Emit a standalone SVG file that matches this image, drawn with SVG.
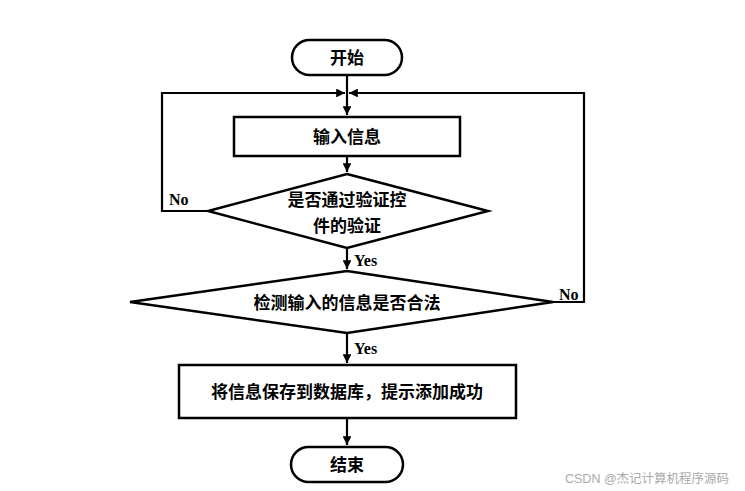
<svg xmlns="http://www.w3.org/2000/svg" width="745" height="491" viewBox="0 0 745 491">
<defs>
<marker id="ah" viewBox="0 0 10 10" refX="10" refY="5" markerWidth="4" markerHeight="4" orient="auto" markerUnits="strokeWidth">
<path d="M0,0 L10,5 L0,10 z" fill="#000"/>
</marker>
<style>
.s{fill:#fff;stroke:#000;stroke-width:2.5}
.c{fill:none;stroke:#000;stroke-width:2.2}
.t{font-family:"Noto Sans CJK SC","Liberation Sans",sans-serif;font-weight:bold;font-size:17px;text-anchor:middle;fill:#000}
.l{font-family:"Liberation Serif",serif;font-weight:bold;font-size:16px;fill:#000}
</style>
</defs>
<rect width="745" height="491" fill="#fff"/>
<g id="connectors">
<path class="c" d="M347,75 V115" marker-end="url(#ah)"/>
<path class="c" d="M347,156 V172" marker-end="url(#ah)"/>
<path class="c" d="M208,211 H162 V93 H345" marker-end="url(#ah)"/>
<path class="c" d="M553,302 H584 V93 H349" marker-end="url(#ah)"/>
<path class="c" d="M347,248 V269" marker-end="url(#ah)"/>
<path class="c" d="M347,333 V363" marker-end="url(#ah)"/>
<path class="c" d="M347,418 V445" marker-end="url(#ah)"/>
<text class="l" x="169" y="205">No</text>
<text class="l" x="354" y="266">Yes</text>
<text class="l" x="559" y="300">No</text>
<text class="l" x="354" y="354">Yes</text>
</g>
<g id="start">
<rect class="s" x="292" y="40" width="110" height="35" rx="17.5"/>
<text class="t" x="347" y="64">开始</text>
</g>
<g id="input">
<rect class="s" x="234" y="117" width="226" height="39"/>
<text class="t" x="347" y="143">输入信息</text>
</g>
<g id="check1">
<polygon class="s" points="347,174 488,211 347,248 208,211"/>
<text class="t" x="347" y="206">是否通过验证控</text>
<text class="t" x="347" y="232">件的验证</text>
</g>
<g id="check2">
<polygon class="s" points="347,271 553,302 347,333 130,302"/>
<text class="t" x="347" y="309">检测输入的信息是否合法</text>
</g>
<g id="save">
<rect class="s" x="179" y="365" width="337" height="53"/>
<text class="t" x="347" y="398">将信息保存到数据库，提示添加成功</text>
</g>
<g id="end">
<rect class="s" x="291" y="447" width="112" height="35" rx="17.5"/>
<text class="t" x="347" y="471">结束</text>
</g>
<text x="565" y="483" font-family="'Liberation Sans','Noto Sans CJK SC',sans-serif" font-size="12.5" fill="#aaa">CSDN @杰记计算机程序源码</text>
</svg>
